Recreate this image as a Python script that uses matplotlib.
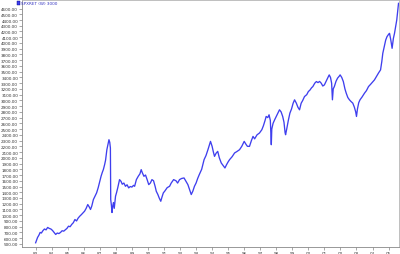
import matplotlib
matplotlib.use("Agg")
import matplotlib.pyplot as plt
from matplotlib.patches import Rectangle
from matplotlib.ticker import FormatStrFormatter

plt.rcParams.update({"font.family": "DejaVu Sans", "font.size": 3})

LINE = "#3f3fee"
FRAME = "#b4b4b4"
SERIES_NAME = "SPXRET (W) 3000"

# decimal years / index level
dates = [
    1983.00, 1983.05, 1983.12, 1983.20, 1983.28, 1983.36, 1983.45, 1983.55, 1983.65, 1983.75,
    1983.85, 1983.95, 1984.05, 1984.15, 1984.25, 1984.35, 1984.45, 1984.55, 1984.65, 1984.75,
    1984.85, 1984.95, 1985.05, 1985.15, 1985.25, 1985.35, 1985.45, 1985.55, 1985.65, 1985.75,
    1985.85, 1985.95, 1986.05, 1986.15, 1986.25, 1986.35, 1986.42, 1986.50, 1986.60, 1986.70,
    1986.80, 1986.90, 1987.00, 1987.08, 1987.16, 1987.22, 1987.30, 1987.36, 1987.44, 1987.52,
    1987.57, 1987.62, 1987.66, 1987.68, 1987.72, 1987.76, 1987.80, 1987.85, 1987.90, 1987.98,
    1988.05, 1988.12, 1988.23, 1988.32, 1988.40, 1988.50, 1988.60, 1988.70, 1988.80, 1988.90,
    1989.00, 1989.10, 1989.17, 1989.28, 1989.40, 1989.50, 1989.58, 1989.65, 1989.75, 1989.85,
    1989.95, 1990.05, 1990.15, 1990.25, 1990.35, 1990.45, 1990.52, 1990.62, 1990.70, 1990.80,
    1990.88, 1990.96, 1991.05, 1991.20, 1991.35, 1991.45, 1991.60, 1991.75, 1991.85, 1991.97,
    1992.10, 1992.25, 1992.35, 1992.49, 1992.58, 1992.70, 1992.80, 1992.90, 1993.00, 1993.10,
    1993.20, 1993.35, 1993.50, 1993.62, 1993.74, 1993.90, 1994.00, 1994.08, 1994.15, 1994.25,
    1994.35, 1994.45, 1994.57, 1994.70, 1994.80, 1994.90, 1995.00, 1995.09, 1995.25, 1995.40,
    1995.55, 1995.71, 1995.85, 1996.00, 1996.10, 1996.20, 1996.33, 1996.45, 1996.55, 1996.65,
    1996.80, 1996.95, 1997.10, 1997.20, 1997.30, 1997.37, 1997.47, 1997.55, 1997.63, 1997.69,
    1997.72, 1997.80, 1997.90, 1998.00, 1998.10, 1998.20, 1998.30, 1998.40, 1998.48, 1998.55,
    1998.58, 1998.65, 1998.75, 1998.85, 1998.95, 1999.05, 1999.14, 1999.25, 1999.35, 1999.45,
    1999.55, 1999.65, 1999.76, 1999.90, 2000.00, 2000.10, 2000.20, 2000.28, 2000.40, 2000.50,
    2000.60, 2000.70, 2000.80, 2000.90, 2001.00, 2001.10, 2001.20, 2001.30, 2001.38, 2001.45,
    2001.50, 2001.55, 2001.62, 2001.72, 2001.82, 2001.92, 2001.98, 2002.08, 2002.18, 2002.28,
    2002.36, 2002.46, 2002.56, 2002.66, 2002.77, 2002.87, 2002.95, 2003.00, 2003.06, 2003.14,
    2003.22, 2003.35, 2003.50, 2003.62, 2003.75, 2003.88, 2004.00, 2004.12, 2004.25, 2004.38,
    2004.50, 2004.58, 2004.64, 2004.72, 2004.82, 2004.90, 2005.00, 2005.06, 2005.14, 2005.22,
    2005.30, 2005.37, 2005.45, 2005.51, 2005.57, 2005.62,
]
values = [
    520, 560, 613, 650, 700, 690, 730, 760, 745, 787,
    770, 760, 735, 700, 665, 690, 680, 700, 730, 722,
    745, 770, 809, 800, 840, 870, 925, 900, 950, 983,
    1010, 1040, 1070, 1120, 1186, 1140, 1100, 1160, 1273, 1330,
    1389, 1480, 1591, 1680, 1750, 1794, 1881, 1960, 2141, 2250,
    2315, 2270, 2170, 1273, 1180, 1047, 1150, 1221, 1120, 1330,
    1400, 1480, 1620, 1591, 1540, 1560, 1504, 1530, 1476, 1500,
    1490, 1520, 1504, 1620, 1680, 1720, 1794, 1740, 1678, 1700,
    1620, 1533, 1560, 1620, 1600, 1500, 1417, 1360, 1302, 1243,
    1320, 1389, 1420, 1480, 1504, 1560, 1620, 1600, 1560, 1620,
    1640, 1649, 1600, 1533, 1460, 1360, 1420, 1504, 1560, 1640,
    1707, 1800, 1968, 2040, 2141, 2286, 2200, 2100, 2025, 2080,
    2112, 2000, 1910, 1860, 1823, 1880, 1930, 1968, 2020, 2084,
    2110, 2141, 2200, 2286, 2240, 2200, 2199, 2300, 2373, 2330,
    2400, 2431, 2489, 2560, 2650, 2720, 2700, 2749, 2650, 2228,
    2500, 2600, 2663, 2720, 2780, 2836, 2800, 2720, 2620, 2437,
    2402, 2500, 2650, 2779, 2850, 2950, 3010, 2952, 2880, 2836,
    2950, 3000, 3067, 3100, 3154, 3180, 3220, 3241, 3300, 3328,
    3310, 3330, 3300, 3250, 3270, 3330, 3387, 3444, 3400, 3300,
    3010, 3200, 3241, 3330, 3387, 3420, 3444, 3400, 3328, 3200,
    3126, 3050, 3010, 2980, 2952, 2880, 2800, 2720, 2850, 2960,
    3010, 3060, 3126, 3170, 3241, 3280, 3320, 3357, 3420, 3480,
    3531, 3680, 3820, 3920, 4050, 4109, 4150, 4168, 4050, 3907,
    4080, 4168, 4300, 4400, 4560, 4690,
]
years = list(range(1983, 2006))
year_labels = [f"{y % 100:02d}" for y in years]
y_ticks = list(range(500, 4700, 100))

fig = plt.figure(figsize=(4.0, 2.55), dpi=100)
ax = fig.add_axes([0.055, 0.026, 0.9425, 0.970])
ax.plot(dates, values, color=LINE, linewidth=0.95)

ax.set_xlim(1982.15, 2005.65)
ax.set_ylim(440, 4748)
ax.set_xticks(years)
ax.set_xticklabels(year_labels)
ax.set_yticks(y_ticks)
ax.yaxis.set_major_formatter(FormatStrFormatter("%.2f"))
ax.tick_params(axis="both", length=2, width=0.4, color="#666666", pad=0.8,
               labelsize=3, labelcolor="#333333")
for s in ax.spines.values():
    s.set_color(FRAME)
    s.set_linewidth(0.6)
ax.spines["left"].set_color("#888888")
ax.spines["bottom"].set_color("#888888")

# little legend box in the top-left corner
fig.patches.append(Rectangle((17 / 400, 1 - 6 / 255), 3 / 400, 4 / 255,
                             transform=fig.transFigure, facecolor=LINE,
                             edgecolor="#000080", linewidth=0.3))
fig.text(21 / 400, 1 - 4 / 255, SERIES_NAME, fontsize=3, color="#3030c0",
         ha="left", va="center")

fig.savefig("out.png", dpi=100)
